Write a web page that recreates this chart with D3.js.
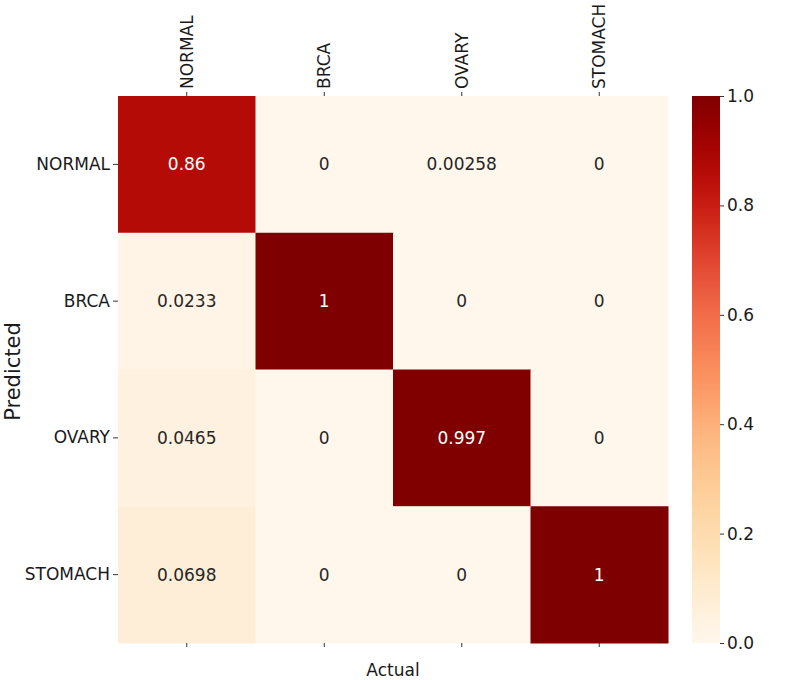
<!DOCTYPE html>
<html lang="en">
<head>
<meta charset="UTF-8">
<title>Confusion matrix</title>
<script src="https://d3js.org/d3.v7.min.js"></script>
<style>
  body { margin: 0; background: #fff; }
  text { font-family: "DejaVu Sans", sans-serif; fill: #1a1a1a; }
</style>
</head>
<body>
<svg id="chart" width="786" height="680"></svg>
<script>
// class labels (columns = actual, rows = predicted)
const actualLabels = ["NORMAL", "BRCA", "OVARY", "STOMACH"];
const predictedLabels = ["NORMAL", "BRCA", "OVARY", "STOMACH"];

// matrix values, one array per predicted row
const rowNormal = [0.86, 0, 0.00258, 0];
const rowBrca = [0.0233, 1, 0, 0];
const rowOvary = [0.0465, 0, 0.997, 0];
const rowStomach = [0.0698, 0, 0, 1];
const matrixRows = [rowNormal, rowBrca, rowOvary, rowStomach];

const colorbarTicks = [0, 0.2, 0.4, 0.6, 0.8, 1.0];

const svg = d3.select("#chart");

// plot box (window.top is taken, so prefixed names)
const plotL = 118, plotR = 668, plotT = 96, plotB = 643;
const fs = "17px";

const x = d3.scaleBand().domain(actualLabels).range([plotL, plotR]);
const y = d3.scaleBand().domain(predictedLabels).range([plotT, plotB]);
const color = d3.scaleSequential(d3.interpolateOrRd).domain([0, 1]);

// flatten the rows into cells
const cells = [];
matrixRows.forEach((row, i) => {
    row.forEach((v, j) => {
        cells.push({ pred: predictedLabels[i], act: actualLabels[j], value: v });
    });
});

svg.append("g").selectAll("rect")
    .data(cells)
    .enter().append("rect")
    .attr("x", d => x(d.act))
    .attr("y", d => y(d.pred))
    .attr("width", x.bandwidth() + 0.5)
    .attr("height", y.bandwidth() + 0.5)
    .attr("fill", d => color(d.value));

// annotations, white on dark cells
svg.append("g").selectAll("text")
    .data(cells)
    .enter().append("text")
    .attr("x", d => x(d.act) + x.bandwidth() / 2)
    .attr("y", d => y(d.pred) + y.bandwidth() / 2)
    .attr("text-anchor", "middle")
    .attr("dominant-baseline", "central")
    .style("font-size", fs)
    .style("fill", d => d.value > 0.5 ? "#ffffff" : "#262626")
    .text(d => d3.format(".3~g")(d.value));

// top axis with rotated labels
const xTop = svg.append("g")
    .attr("transform", `translate(0,${plotT})`)
    .call(d3.axisTop(x).tickSize(4).tickPadding(3));
xTop.select(".domain").remove();
xTop.selectAll("line").attr("stroke", "#333");
xTop.selectAll("text")
    .attr("transform", "rotate(-90)")
    .attr("x", 7)
    .attr("y", 0)
    .attr("dy", "0.35em")
    .attr("text-anchor", "start")
    .style("font-size", fs);

// bottom tick marks only
const xBottom = svg.append("g")
    .attr("transform", `translate(0,${plotB})`)
    .call(d3.axisBottom(x).tickSize(4).tickFormat(""));
xBottom.select(".domain").remove();
xBottom.selectAll("line").attr("stroke", "#333");

// left axis
const yAxis = svg.append("g")
    .attr("transform", `translate(${plotL},0)`)
    .call(d3.axisLeft(y).tickSize(5).tickPadding(3));
yAxis.select(".domain").remove();
yAxis.selectAll("line").attr("stroke", "#333");
yAxis.selectAll("text").style("font-size", fs);

// axis titles
svg.append("text")
    .attr("x", (plotL + plotR) / 2)
    .attr("y", 676)
    .attr("text-anchor", "middle")
    .style("font-size", fs)
    .text("Actual");

svg.append("text")
    .attr("transform", `translate(13,${(plotT + plotB) / 2 + 2}) rotate(-90)`)
    .attr("text-anchor", "middle")
    .attr("dominant-baseline", "central")
    .style("font-size", "21px")
    .text("Predicted");

// colorbar
const cbX = 692, cbW = 28;
const defs = svg.append("defs");
const grad = defs.append("linearGradient")
    .attr("id", "cbgrad")
    .attr("x1", "0%").attr("y1", "100%")
    .attr("x2", "0%").attr("y2", "0%");
d3.range(0, 1.0001, 0.05).forEach(t => {
    grad.append("stop")
        .attr("offset", `${t * 100}%`)
        .attr("stop-color", color(t));
});
svg.append("rect")
    .attr("x", cbX)
    .attr("y", plotT)
    .attr("width", cbW)
    .attr("height", plotB - plotT)
    .attr("fill", "url(#cbgrad)");

const cbScale = d3.scaleLinear().domain([0, 1]).range([plotB, plotT]);
const cbAxis = svg.append("g")
    .attr("transform", `translate(${cbX + cbW},0)`)
    .call(d3.axisRight(cbScale).tickValues(colorbarTicks).tickFormat(d3.format(".1f")).tickSize(4).tickPadding(3));
cbAxis.select(".domain").remove();
cbAxis.selectAll("line").attr("stroke", "#333");
cbAxis.selectAll("text").style("font-size", fs);
</script>
</body>
</html>
